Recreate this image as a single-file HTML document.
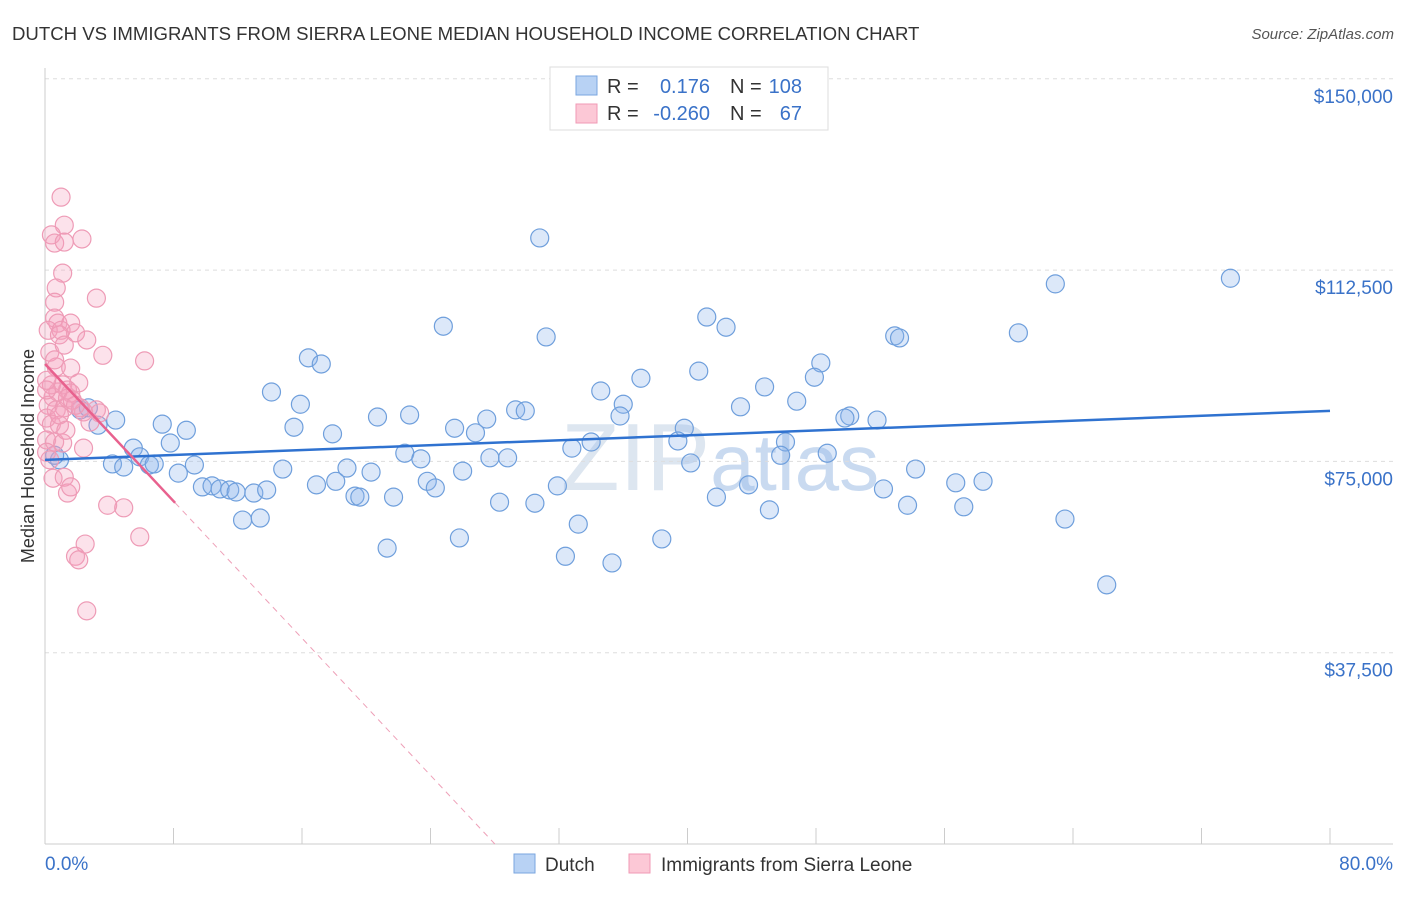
<!DOCTYPE html>
<html><head><meta charset="utf-8"><style>
body{margin:0;background:#fff;font-family:"Liberation Sans",sans-serif;}
svg text{font-family:"Liberation Sans",sans-serif;}
</style></head><body>
<svg id="chart" width="1406" height="892" xmlns="http://www.w3.org/2000/svg">
<text x="12" y="40" font-size="18.6" fill="#333">DUTCH VS IMMIGRANTS FROM SIERRA LEONE MEDIAN HOUSEHOLD INCOME CORRELATION CHART</text>
<text x="1394" y="39" font-size="15" fill="#555" text-anchor="end" font-style="italic">Source: ZipAtlas.com</text>
<text x="720" y="490" font-size="96" fill="#dde6f0" text-anchor="middle" font-family="Liberation Serif">ZIP<tspan fill="#c9daf0" font-family="Liberation Sans" font-size="80">atlas</tspan></text>
<g id="grid"></g>
<g id="axes"></g>
<text transform="translate(34,456) rotate(-90)" font-size="18" fill="#333" text-anchor="middle">Median Household Income</text>
<g id="points"></g>
<g id="trends"></g>
<g>
<rect x="550" y="67" width="278" height="63" fill="#fff" stroke="#ddd"/>
<rect x="576" y="76" width="21" height="19" fill="#b8d2f4" stroke="#7aa6df"/>
<rect x="576" y="104" width="21" height="19" fill="#fcc8d6" stroke="#f09ab5"/>
<text x="607" y="93" font-size="20" fill="#333">R =</text>
<text x="710" y="93" font-size="20" fill="#3a72c8" text-anchor="end">0.176</text>
<text x="730" y="93" font-size="20" fill="#333">N =</text>
<text x="802" y="93" font-size="20" fill="#3a72c8" text-anchor="end">108</text>
<text x="607" y="120" font-size="20" fill="#333">R =</text>
<text x="710" y="120" font-size="20" fill="#3a72c8" text-anchor="end">-0.260</text>
<text x="730" y="120" font-size="20" fill="#333">N =</text>
<text x="802" y="120" font-size="20" fill="#3a72c8" text-anchor="end">67</text>
</g>
<g>
<rect x="514" y="854" width="21" height="19" fill="#b8d2f4" stroke="#7aa6df"/>
<text x="545" y="871" font-size="19" fill="#333">Dutch</text>
<rect x="629" y="854" width="21" height="19" fill="#fcc8d6" stroke="#f09ab5"/>
<text x="661" y="871" font-size="19" fill="#333">Immigrants from Sierra Leone</text>
</g>
</svg>
<script>
const yTicks=[37500,75000,112500,150000];
const yTickLabels=["$37,500","$75,000","$112,500","$150,000"];
const xTickCount=10;
const dutchX=[30.8,62.9,73.8,24.8,31.2,41.2,42.4,52.9,53.2,60.6,16.4,17.2,48.3,14.1,15.9,37.1,40.7,44.8,47.9,34.6,46.8,36.0,43.3,29.3,29.9,20.7,22.7,27.5,50.1,49.8,51.8,7.3,8.8,15.5,17.9,25.5,26.8,35.8,39.8,39.4,46.1,34.0,32.8,7.8,5.5,3.3,4.4,2.2,2.7,22.4,23.4,27.7,28.8,48.7,45.8,5.9,4.2,4.9,6.5,6.8,8.3,9.3,14.8,18.8,20.3,26.0,40.2,54.2,23.8,24.3,18.1,16.9,9.8,10.4,10.9,11.5,11.9,13.0,13.8,19.3,19.6,21.7,28.3,30.5,31.9,41.8,43.8,52.2,56.7,58.4,53.7,57.2,45.1,12.3,13.4,33.2,63.5,21.3,25.8,38.4,32.4,35.3,66.1,0.9,0.6];
const dutchY=[118.8,109.8,110.9,101.5,99.4,103.3,101.3,99.6,99.2,100.2,95.3,94.1,94.3,88.6,86.2,91.3,92.7,89.6,91.5,88.8,86.8,86.2,85.7,85.1,84.9,83.7,84.1,83.3,83.9,83.5,83.1,82.3,81.1,81.7,80.4,81.5,80.6,83.9,81.5,79.0,78.8,78.8,77.6,78.6,77.6,82.1,83.1,85.1,85.5,76.6,75.5,75.7,75.7,76.6,76.2,75.9,74.5,73.9,74.3,74.5,72.7,74.3,73.5,73.7,72.9,73.1,74.7,73.5,71.1,69.8,71.1,70.4,70.0,70.2,69.6,69.4,69.0,68.8,69.4,68.2,68.0,68.0,67.0,66.8,70.2,68.0,70.4,69.6,70.8,71.1,66.4,66.1,65.5,63.5,63.9,62.7,63.7,58.0,60.0,59.8,56.4,55.1,50.8,75.3,76.2];
const sierraX=[1.0,1.2,0.4,0.6,1.2,2.3,1.1,0.7,3.2,0.6,0.6,0.8,1.6,0.2,1.0,1.9,0.9,2.6,0.3,1.2,3.6,6.2,0.7,1.6,2.1,1.1,1.4,1.6,0.5,0.2,0.7,1.2,2.2,2.4,3.2,3.4,0.1,0.4,0.9,2.8,0.1,0.6,1.1,2.4,0.1,0.3,0.5,1.2,1.4,1.6,3.9,4.9,5.9,2.5,1.9,2.1,2.6,0.8,1.4,0.4,1.7,0.9,0.1,0.6,0.1,1.3,1.9];
const sierraY=[126.8,121.3,119.4,117.8,118.0,118.6,111.9,109.0,107.0,106.2,103.1,102.1,102.1,100.7,100.7,100.2,99.8,98.8,96.4,97.8,95.8,94.7,93.5,93.3,90.4,90.0,89.0,88.4,87.6,86.0,85.1,85.5,85.5,84.7,85.1,84.5,83.5,82.3,82.1,82.7,79.2,78.8,78.6,77.6,76.8,75.3,71.7,71.9,68.8,70.0,66.4,65.9,60.2,58.8,56.4,55.7,45.7,88.6,87.4,90.0,87.0,84.1,89.0,94.9,90.9,81.1,86.0];
const dutchTrend=[75.3,84.9];
const sierraTrend=[94.1,-3.36];
const NS="http://www.w3.org/2000/svg";
const X=v=>45+v/80*1285;
const Y=v=>844-v/37.5*191.3;
function mk(tag,attrs,parent){const e=document.createElementNS(NS,tag);for(const k in attrs)e.setAttribute(k,attrs[k]);document.getElementById(parent).appendChild(e);return e;}
yTicks.forEach((t,i)=>{
 const y=Y(t/1000);
 const l=mk('line',{x1:45,x2:1393,y1:y,y2:y,stroke:'#ddd','stroke-dasharray':'4,4'},'grid');
 
 
 const tx=mk('text',{x:1393,y:y+24,'font-size':19,fill:'#3a72c8','text-anchor':'end'},'axes');
 tx.textContent=yTickLabels[i];
 
 
});
const ax=mk('line',{x1:45,x2:1393,y1:844,y2:844,stroke:'#ccc'},'axes');


const ay=mk('line',{x1:45,x2:45,y1:68,y2:844,stroke:'#ccc'},'axes');


for(let i=1;i<=xTickCount;i++){const x=X(i*8);const t=mk('line',{x1:x,x2:x,y1:828,y2:844,stroke:'#ccc'},'axes');
 
 }
const xl0=mk('text',{x:45,y:870,'font-size':19,fill:'#3a72c8'},'axes');xl0.textContent='0.0%';


const xl1=mk('text',{x:1393,y:870,'font-size':19,fill:'#3a72c8','text-anchor':'end'},'axes');xl1.textContent='80.0%';


dutchX.forEach((v,i)=>{const c=mk('circle',{cx:X(v),cy:Y(dutchY[i]),r:9,fill:'rgba(140,180,235,0.3)',stroke:'#6f9fdc','stroke-width':1.2},'points');
 
 });
sierraX.forEach((v,i)=>{const c=mk('circle',{cx:X(v),cy:Y(sierraY[i]),r:9,fill:'rgba(245,160,190,0.3)',stroke:'#ee9bb6','stroke-width':1.2},'points');
 
 });
const bt=mk('line',{x1:X(0),y1:Y(dutchTrend[0]),x2:X(80),y2:Y(dutchTrend[1]),stroke:'#2f72d0','stroke-width':2.5},'trends');


const sEnd=8.1, sZero=-sierraTrend[0]/sierraTrend[1];
const st=mk('line',{x1:X(0),y1:Y(sierraTrend[0]),x2:X(sEnd),y2:Y(sierraTrend[0]+sierraTrend[1]*sEnd),stroke:'#e8618e','stroke-width':2.5},'trends');


const sd=mk('line',{x1:X(sEnd),y1:Y(sierraTrend[0]+sierraTrend[1]*sEnd),x2:X(sZero),y2:Y(0),stroke:'#eea0b8','stroke-width':1,'stroke-dasharray':'6,5'},'trends');


</script>
</body></html>
